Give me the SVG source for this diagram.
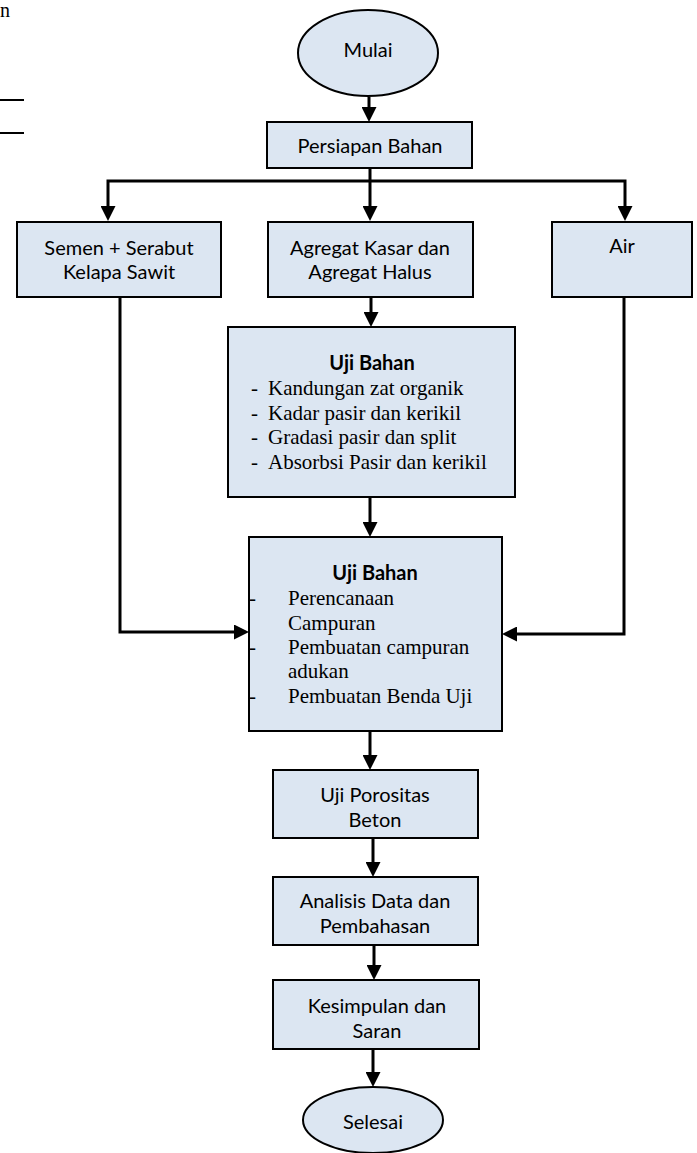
<svg xmlns="http://www.w3.org/2000/svg" width="697" height="1153" viewBox="0 0 697 1153">
<style>
.box{fill:#dce6f2;stroke:#000;stroke-width:2}
.sans{font-family:Lato,"Open Sans","Liberation Sans",sans-serif;font-size:20px;fill:#000}
.sb{font-family:Lato,"Open Sans","Liberation Sans",sans-serif;font-size:20px;font-weight:bold;fill:#000}
.serif{font-family:"Liberation Serif","Times New Roman",serif;font-size:21px;fill:#000}
.c{text-anchor:middle}
.conn{fill:none;stroke:#000;stroke-width:3;stroke-linejoin:miter}
</style>
<defs>
<marker id="ah" markerUnits="userSpaceOnUse" markerWidth="15" markerHeight="15" viewBox="0 0 15 15" refX="10" refY="7.5" orient="auto">
<path d="M0,0 L15,7.5 L0,15 z" fill="#000"/>
</marker>
</defs>
<rect width="697" height="1153" fill="#fff"/>
<g id="page-fragment">
<text class="serif" x="0" y="17" style="font-size:20px">n</text>
<line x1="0" y1="100" x2="24" y2="100" stroke="#000" stroke-width="2"/>
<line x1="0" y1="133" x2="24" y2="133" stroke="#000" stroke-width="2"/>
</g>
<g id="connectors">
<path class="conn" d="M369,97 V117" marker-end="url(#ah)"/>
<path class="conn" d="M370,168 V216" marker-end="url(#ah)"/>
<path class="conn" d="M370,181 H108 V216" marker-end="url(#ah)"/>
<path class="conn" d="M370,181 H625 V216" marker-end="url(#ah)"/>
<path class="conn" d="M371,297 V322" marker-end="url(#ah)"/>
<path class="conn" d="M370,497 V532" marker-end="url(#ah)"/>
<path class="conn" d="M120,297 V632 H244" marker-end="url(#ah)"/>
<path class="conn" d="M624,297 V634 H507" marker-end="url(#ah)"/>
<path class="conn" d="M370,731 V765" marker-end="url(#ah)"/>
<path class="conn" d="M373,838 V872" marker-end="url(#ah)"/>
<path class="conn" d="M374,945 V975" marker-end="url(#ah)"/>
<path class="conn" d="M373,1049 V1082" marker-end="url(#ah)"/>
</g>
<g id="mulai">
<ellipse class="box" cx="368" cy="53" rx="70" ry="43"/>
<text class="sans c" x="368" y="57">Mulai</text>
</g>
<g id="persiapan">
<rect class="box" x="267" y="122" width="205" height="46"/>
<text class="sans c" x="370" y="153">Persiapan Bahan</text>
</g>
<g id="semen">
<rect class="box" x="17" y="222" width="204" height="75"/>
<text class="sans c" x="119" y="255">Semen + Serabut</text>
<text class="sans c" x="119" y="279">Kelapa Sawit</text>
</g>
<g id="agregat">
<rect class="box" x="268" y="222" width="205" height="75"/>
<text class="sans c" x="370" y="255">Agregat Kasar dan</text>
<text class="sans c" x="370" y="279">Agregat Halus</text>
</g>
<g id="air">
<rect class="box" x="552" y="222" width="140" height="75"/>
<text class="sans c" x="622" y="253">Air</text>
</g>
<g id="uji-bahan-1">
<rect class="box" x="228" y="327" width="287" height="170"/>
<text class="sb c" x="372" y="370">Uji Bahan</text>
<text class="serif" x="251" y="395">-</text>
<text class="serif" x="268" y="395">Kandungan zat organik</text>
<text class="serif" x="251" y="420">-</text>
<text class="serif" x="268" y="420">Kadar pasir dan kerikil</text>
<text class="serif" x="251" y="444">-</text>
<text class="serif" x="268" y="444">Gradasi pasir dan split</text>
<text class="serif" x="251" y="469">-</text>
<text class="serif" x="268" y="469">Absorbsi Pasir dan kerikil</text>
</g>
<g id="uji-bahan-2">
<rect class="box" x="249" y="537" width="253" height="194"/>
<text class="sb c" x="375" y="580">Uji Bahan</text>
<text class="serif" x="249" y="605">-</text>
<text class="serif" x="288" y="605">Perencanaan</text>
<text class="serif" x="288" y="630">Campuran</text>
<text class="serif" x="249" y="654">-</text>
<text class="serif" x="288" y="654">Pembuatan campuran</text>
<text class="serif" x="288" y="678">adukan</text>
<text class="serif" x="249" y="703">-</text>
<text class="serif" x="288" y="703">Pembuatan Benda Uji</text>
</g>
<g id="uji-porositas">
<rect class="box" x="273" y="770" width="205" height="68"/>
<text class="sans c" x="375" y="802">Uji Porositas</text>
<text class="sans c" x="375" y="827">Beton</text>
</g>
<g id="analisis">
<rect class="box" x="273" y="877" width="205" height="68"/>
<text class="sans c" x="375" y="908">Analisis Data dan</text>
<text class="sans c" x="375" y="933">Pembahasan</text>
</g>
<g id="kesimpulan">
<rect class="box" x="273" y="980" width="206" height="69"/>
<text class="sans c" x="377" y="1013">Kesimpulan dan</text>
<text class="sans c" x="377" y="1038">Saran</text>
</g>
<g id="selesai">
<ellipse class="box" cx="373" cy="1120" rx="70" ry="33"/>
<text class="sans c" x="373" y="1129">Selesai</text>
</g>
</svg>
